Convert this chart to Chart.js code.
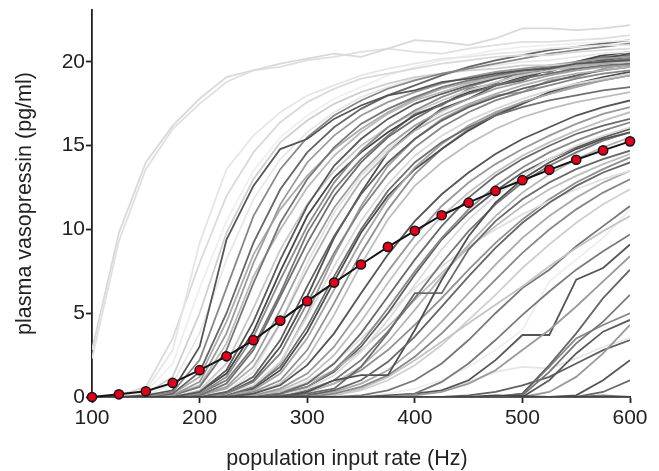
<!DOCTYPE html>
<html><head><meta charset="utf-8">
<script src="https://cdn.jsdelivr.net/npm/chart.js@4/dist/chart.umd.min.js"></script>
<style>html,body{margin:0;padding:0;background:#fff}#c{display:block}</style>
</head><body>
<canvas id="c" width="659" height="471"></canvas>
<script>
const inputRates = [100,125,150,175,200,225,250,275,300,325,350,375,400,425,450,475,500,525,550,575,600];
const meanVasopressin = [0,0.16,0.34,0.84,1.6,2.43,3.39,4.56,5.72,6.83,7.91,8.96,9.92,10.85,11.6,12.3,12.94,13.56,14.16,14.72,15.26];
const xTickValues = [100,200,300,400,500,600];
const yTickValues = [0,5,10,15,20];
const xTitle = 'population input rate (Hz)';
const yTitle = 'plasma vasopressin (pg/ml)';

// individual neuron responses (pg/ml), one row per trace
const neuronTraces = [
  [0,0,0,0,0,0,0,0,0,0,0,0,0,0,0,0.1,0.05,0,0,0,0],
  [2.8,9.8,14.0,16.2,17.8,19.1,19.5,19.9,20.2,20.5,20.3,20.8,21.3,21.2,21.0,21.4,22.0,22.0,21.9,22.0,22.2],
  [2.3,9.3,13.6,16.0,17.5,18.8,19.5,19.7,20.1,20.3,20.6,20.8,20.6,20.5,20.8,21.0,21.2,21.2,21.3,21.4,21.6],
  [0,0.1,0.4,2.8,9.2,13.6,15.6,17.0,18.0,18.6,19.2,19.6,19.9,20.2,20.3,20.5,20.6,20.8,20.9,21.0,21.0],
  [0,0,0,0,0,0,0,0,0,0,0,0,0.1,0.3,0.8,1.6,2.8,4.0,5.4,6.9,8.4],
  [0,0,0.1,0.4,3.0,9.4,12.6,14.8,15.4,16.6,17.4,18.0,18.3,18.8,19.0,19.3,19.5,19.6,19.9,20.0,20.1],
  [0,0.1,0.6,3.5,8.0,12.0,14.6,16.4,17.6,18.4,19.0,19.3,19.6,19.9,20.1,20.3,20.4,20.4,20.6,20.7,20.8],
  [0,0,0,0,0,0,0.2,0.7,1.9,3.8,6.2,8.5,10.5,12.1,13.4,14.5,15.4,16.1,16.8,17.3,17.7],
  [0,0,0,0,0,0,0,0,0,0,0,0,0.2,0.9,2.0,3.4,4.9,6.3,7.6,8.7,9.7],
  [0,0,0,0.3,2.2,6.5,10.8,13.6,15.5,16.8,17.7,18.4,18.9,19.3,19.6,19.9,20.2,20.5,20.7,20.9,21.1],
  [0,0,0.3,2.0,6.5,10.5,13.5,15.5,16.8,17.8,18.5,19.2,19.7,20.1,20.4,20.7,20.9,21.0,21.1,21.2,21.3],
  [0,0,0,0,0,0,0,0,0,0,0,0,0,0,0,0,0.2,1.9,3.8,5.9,7.6],
  [0,0,0,0.2,1.5,5.0,9.2,12.4,14.6,16.1,17.2,18.0,18.6,19.2,19.7,20.1,20.4,20.7,20.9,21.1,21.3],
  [0,0,0.2,1.2,5.0,9.8,13.0,15.2,16.5,17.5,18.2,18.7,19.1,19.3,19.5,19.6,19.8,19.8,19.9,20.0,20.0],
  [0,0,0,0,0,0,0,0,0.1,0.4,1.0,2.1,3.6,5.4,7.2,8.9,10.4,11.6,12.6,13.4,14.0],
  [0,0,0,0.1,0.9,3.8,8.0,11.5,14.0,15.6,16.8,17.6,18.2,18.7,19.1,19.4,19.6,19.8,20.0,20.2,20.3],
  [0,0,0,0,0,0,0.1,0.5,1.4,3.0,5.2,7.5,9.6,11.4,12.8,13.9,14.8,15.6,16.3,16.9,17.3],
  [0,0,0.1,0.8,3.8,8.2,11.8,14.2,15.8,17.0,17.9,18.5,19.0,19.3,19.6,19.8,20.0,20.1,20.3,20.5,20.6],
  [0,0,0,0.1,0.6,2.8,6.8,10.4,13.0,14.9,16.3,17.2,17.9,18.5,18.9,19.2,19.5,19.7,19.9,20.0,20.2],
  [0,0,0,0,0,0,0,0,0.3,1.0,1.3,1.3,4.0,7.0,9.6,11.6,13.0,14.0,14.8,15.4,15.8],
  [0,0,0,0.2,1.2,4.5,8.5,11.2,13.2,14.8,16.0,17.0,17.8,18.4,18.8,19.2,19.4,19.6,19.8,19.9,20.0],
  [0,0,0,0,0,0,0,0,0,0,0,0,0,0,0,0,0.1,1.5,3.2,4.5,6.1],
  [0,0,0,0.1,0.7,3.2,7.2,10.0,12.5,14.4,15.8,16.9,17.7,18.2,18.7,19.1,19.4,19.6,19.7,19.9,20.0],
  [0,0,0,0,0.3,1.6,4.5,8.2,11.4,13.8,15.4,16.6,17.5,18.1,18.6,19.0,19.4,19.6,19.9,20.1,20.3],
  [0,0,0,0,0,0,0.1,0.4,1.1,2.5,4.5,6.8,9.0,10.8,12.2,13.4,14.4,15.2,15.9,16.5,17.0],
  [0,0,0,0,0.2,1.2,3.6,7.0,10.2,12.8,14.7,16.1,17.1,17.9,18.5,19.0,19.3,19.6,19.8,19.9,20.0],
  [0,0,0,0,0,0,0,0,0,0.2,0.6,1.3,2.4,3.8,5.4,7.0,8.6,10.0,11.2,12.2,13.0],
  [0,0,0,0,0.4,2.0,5.3,8.8,11.5,13.5,15.0,16.1,17.0,17.7,18.3,18.8,19.2,19.5,19.7,19.9,20.1],
  [0,0,0,0,0.1,0.8,2.8,6.0,9.2,12.0,14.0,15.5,16.6,17.5,18.1,18.6,19.0,19.3,19.6,19.8,19.9],
  [0,0,0,0,0,0,0,0,0,0,0,0,0,0,0,0,0.2,1.8,3.5,4.3,5.0],
  [0,0,0,0,0,0,0,0.2,0.8,2.0,3.8,6.0,8.2,10.2,11.9,13.2,14.2,15.0,15.7,16.2,16.6],
  [0,0,0,0,0.1,0.6,2.2,5.2,8.5,11.3,13.4,15.0,16.2,17.1,17.8,18.4,18.8,19.2,19.5,19.7,19.8],
  [0,0,0,0,0.3,1.4,3.9,7.5,10.8,13.1,14.6,15.8,16.8,17.5,18.2,18.6,19.1,19.5,20.0,20.4,20.6],
  [0,0,0,0,0,0,0,0.1,0.2,0.5,1.8,3.8,6.2,6.2,8.8,10.5,11.8,12.8,13.6,14.2,14.7],
  [0,0,0,0,0.1,0.5,1.8,4.4,7.6,10.5,12.9,14.6,15.9,16.8,17.5,18.1,18.6,19.0,19.3,19.5,19.7],
  [0,0,0,0,0,0,0,0,0,0.1,0.5,1.2,2.2,3.3,4.4,5.5,6.6,7.8,8.9,9.9,10.8],
  [0,0,0,0,0,0.3,1.2,3.4,6.6,9.6,12.1,14.0,15.4,16.5,17.3,17.9,18.4,18.8,19.2,19.5,19.7],
  [0,0,0,0,0,0,0,0,0,0,0,0,0,0,0,0,0,1.0,2.6,3.9,4.6],
  [0,0,0,0,0,0.2,0.9,2.6,5.6,8.6,11.2,13.3,14.9,16.1,17.0,17.7,18.2,18.6,19.0,19.3,19.5],
  [0,0,0,0,0,0,0,0.2,0.6,1.6,3.2,5.3,7.5,9.5,11.2,12.6,13.7,14.6,15.3,15.9,16.4],
  [0,0,0,0,0,0.2,0.7,2.1,4.8,7.8,10.5,12.7,14.4,15.6,16.5,17.2,17.8,18.3,18.7,19.0,19.3],
  [0,0,0,0,0,0,0,0,0,0,0.1,0.4,1.0,2.0,3.4,5.0,6.5,7.6,9.0,10.2,11.4],
  [0,0,0,0,0,0.1,0.6,1.8,4.2,7.2,10.0,12.3,14.0,15.2,16.1,16.8,17.3,17.7,18.0,18.3,18.5],
  [0,0,0,0,0,0,0,0.1,0.5,1.3,2.7,4.6,6.7,8.8,10.6,12.0,13.2,14.2,15.0,15.6,16.1],
  [0,0,0,0,0,0.1,0.4,1.4,3.5,6.4,9.3,11.8,13.7,15.1,16.2,17.0,17.6,18.1,18.5,18.9,19.2],
  [0,0,0,0,0,0,0,0,0,0,0,0,0,0,0,0,0,0.3,1.2,2.6,4.3],
  [0,0,0,0,0,0.1,0.5,1.6,3.9,6.9,9.8,12.0,13.6,14.8,15.9,16.8,17.5,18.2,18.7,19.1,19.4],
  [0,0,0,0,0,0,0,0,0,0.1,0.4,1.0,1.9,3.1,4.6,6.1,7.7,9.1,10.4,11.5,12.4],
  [0,0,0,0,0,0,0.3,1.0,2.8,5.6,8.6,11.2,13.3,14.8,16.0,16.9,17.6,18.1,18.6,18.9,19.2],
  [0,0,0,0,0,0,0,0.1,0.4,1.0,2.2,3.9,5.9,8.0,9.9,11.5,12.8,13.8,14.6,15.3,15.8],
  [0,0,0,0,0,0,0,0,0,0,0,0.1,0.2,0.4,1.0,2.2,3.7,3.7,7.0,7.7,9.1],
  [0,0,0,0,0,0,0.2,0.8,2.3,4.9,7.9,10.6,12.6,14.0,15.1,16.0,16.7,17.2,17.6,17.9,18.2],
  [0,0,0,0,0,0.2,1.0,3.0,6.0,9.5,12.2,14.6,16.0,17.2,17.8,18.6,18.9,19.6,19.6,20.2,20.5],
  [0,0,0,0,0,0,0,0,0,0,0,0,0,0,0,0,0,0,0.1,1.0,2.2],
  [0,0,0,0,0.2,1.0,3.0,6.2,9.8,12.4,14.2,15.6,16.9,17.4,18.4,18.7,19.5,19.4,20.0,20.3,20.4],
  [0,0,0,0,0,0,0,0.1,0.3,0.8,1.8,3.3,5.2,7.2,9.1,10.8,12.2,13.3,14.2,14.9,15.5],
  [0,0,0,0,0,0.1,0.5,2.0,5.0,8.4,11.4,13.8,15.4,16.6,17.4,18.0,18.2,18.9,19.1,19.6,19.9],
  [0,0,0,0,0,0,0,0,0,0,0,0,0.1,0.4,0.9,1.5,1.8,1.7,2.3,3.0,3.5],
  [0,0,0,0,0,0.3,1.5,4.4,8.0,11.0,13.2,14.8,16.0,17.0,17.8,18.5,19.1,19.6,20.0,20.3,20.6],
  [0,0,0,0,0,0,0.1,0.3,0.8,1.6,2.8,4.2,5.8,7.4,8.9,10.2,11.4,12.4,13.2,13.9,14.5],
  [0,0,0,0,0,0,0,0,0,0,0,0,0,0,0.1,0.3,0.7,1.2,2.0,2.8,3.4],
  [0,0,0,0,0,0,0,0,0,0,0,0.2,0.5,1.0,1.8,2.8,4.0,6.9,8.2,9.5,11.2],
  [0,0,0,0,0,0,0,0.2,0.6,1.5,3.0,5.0,7.3,9.4,11.0,12.3,13.4,14.2,14.9,15.5,16.0],
  [0,0,0,0,0,0,0,0,0,0,0,0,0,0,0,0,0,0,0,0.3,1.0],
  [0,0,0,0,0,0,0.1,0.3,0.9,2.0,3.5,5.0,6.5,7.8,9.0,10.0,10.9,11.7,12.4,13.0,13.5],
  [0,0,0,0,0,0,0,0,0.1,0.3,0.8,1.6,2.9,4.5,6.2,7.9,9.5,10.8,11.9,12.8,13.5],
  [0,0,0,0,0,0,0,0.1,0.3,0.8,1.6,2.8,4.3,5.9,7.6,9.2,10.6,11.8,12.8,13.6,14.3],
  [0,0,0,0,0,0,0,0,0,0,0,0,0,0,0,0,0,0,0,0.1,0],
  [0,0,0,0,0,0,0,0,0,0,0,0,0,0,0,0,0,0,0,0,0]
];
const traceGreys = [
  '#444444','#d9d9d9','#e0e0e0','#e6e6e6','#999999','#555555','#dadada','#555555',
  '#7a7a7a','#888888','#efefef','#666666','#666666','#cfcfcf','#666666','#9a9a9a','#999999',
  '#e8e8e8','#777777','#505050','#acacac','#777777','#bbbbbb','#5a5a5a','#c0c0c0',
  '#8c8c8c','#888888','#c8c8c8','#6e6e6e','#888888','#6a6a6a','#9e9e9e','#474747',
  '#6a6a6a','#b0b0b0','#c4c4c4','#606060','#5a5a5a','#858585','#8a8a8a','#d8d8d8','#777777',
  '#707070','#dcdcdc','#a5a5a5','#999999','#4d4d4d','#d0d0d0','#909090','#777777',
  '#555555','#bdbdbd','#505050','#555555','#7a7a7a','#b5b5b5','#a0a0a0','#e5e5e5',
  '#e2e2e2','#bdbdbd','#606060','#eeeeee','#5e5e5e','#666666','#e0e0e0','#aaaaaa','#8f8f8f',
  '#777777','#999999'
];

const FONT = "'Liberation Sans', Arial, Helvetica, sans-serif";
const INK = '#222222';

const datasets = [{
  data: meanVasopressin.map((v, j) => ({x: inputRates[j], y: v})),
  borderColor: '#151515', borderWidth: 2, tension: 0,
  pointRadius: 4.6, pointBackgroundColor: '#e3001b', pointBorderColor: '#151515', pointBorderWidth: 1.5,
  clip: false, order: 0
}];
neuronTraces.forEach((tr, i) => {
  datasets.push({
    data: tr.map((v, j) => ({x: inputRates[j], y: v})),
    borderColor: traceGreys[i % traceGreys.length], borderWidth: 1.8, tension: 0,
    pointRadius: 0, fill: false, order: 1
  });
});

// x-axis title drawn under the axis, slightly left of the plot centre as in the figure
const xTitlePlugin = {
  id: 'xTitlePlugin',
  afterDraw(chart) {
    const {ctx, chartArea} = chart;
    ctx.save();
    ctx.font = '21.5px ' + FONT;
    ctx.fillStyle = INK;
    ctx.textAlign = 'center';
    ctx.textBaseline = 'alphabetic';
    ctx.fillText(xTitle, (chartArea.left + chartArea.right) / 2 - 14, 465);
    ctx.restore();
  }
};

new Chart(document.getElementById('c'), {
  type: 'line',
  data: {datasets},
  plugins: [xTitlePlugin],
  options: {
    responsive: false, animation: false, devicePixelRatio: 1,
    events: [],
    layout: {padding: {top: 10, right: 29, left: 0, bottom: 0}},
    plugins: {legend: {display: false}, tooltip: {enabled: false}},
    scales: {
      x: {
        type: 'linear', min: 100, max: 600,
        afterBuildTicks: a => { a.ticks = xTickValues.map(v => ({value: v})); },
        afterFit: a => { a.height = 74; a.paddingLeft = 0; a.paddingRight = 0; },
        grid: {display: true, drawOnChartArea: false, drawTicks: true, tickLength: 6, tickWidth: 1.8, tickColor: INK},
        border: {display: true, color: INK, width: 1.8},
        ticks: {color: INK, font: {family: FONT, size: 21}, padding: 3, maxRotation: 0, autoSkip: false},
        title: {display: false}
      },
      y: {
        type: 'linear', min: 0, max: 23.1,
        afterBuildTicks: a => { a.ticks = yTickValues.map(v => ({value: v})); },
        afterFit: a => { a.width = 92; a.paddingTop = 0; a.paddingBottom = 0; },
        grid: {display: true, drawOnChartArea: false, drawTicks: true, tickLength: 6, tickWidth: 1.8, tickColor: INK},
        border: {display: true, color: INK, width: 1.8},
        ticks: {color: INK, font: {family: FONT, size: 21}, padding: 1, autoSkip: false},
        title: {display: true, text: yTitle, color: INK, font: {family: FONT, size: 21.5}, padding: {top: 12, bottom: 0}}
      }
    }
  }
});
</script>
</body></html>
